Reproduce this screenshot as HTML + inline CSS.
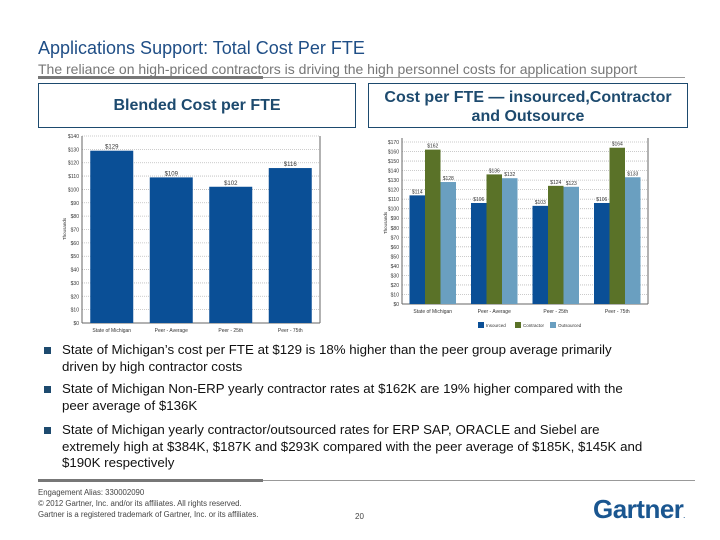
<!DOCTYPE html>
<html><head><meta charset="utf-8"><style>
body{margin:0;width:720px;height:540px;background:#fff;font-family:"Liberation Sans",Arial,sans-serif;position:relative;overflow:hidden}
.abs{position:absolute}
.box{position:absolute;border:1.5px solid #1d4a6e;color:#1d4a6e;font-weight:bold;font-size:16px;text-align:center;box-sizing:border-box}
.bul{position:absolute;left:62px;width:585px;font-size:13.3px;line-height:16.5px;color:#111}
.sq{position:absolute;left:44px;width:7px;height:7px;background:#1d4a6e}
</style></head><body>
<div class="abs" style="left:38px;top:38px;font-size:18px;color:#1f4e86">Applications Support: Total Cost Per FTE</div>
<div class="abs" style="left:38px;top:61px;font-size:14px;color:#777">The reliance on high-priced contractors is driving the high personnel costs for application support</div>
<div class="abs" style="left:38px;top:77px;width:647px;height:1px;background:#999"></div>
<div class="abs" style="left:38px;top:76px;width:225px;height:3px;background:#777"></div>
<div class="box" style="left:38px;top:83px;width:318px;height:45px;line-height:43px">Blended Cost per FTE</div>
<div class="box" style="left:368px;top:83px;width:320px;height:45px;padding-top:4px;line-height:19px">Cost per FTE — insourced,Contractor<br>and Outsource</div>

<svg class="abs" style="left:0;top:0" width="720" height="540">
<g id="left"></g><g id="right"></g>
</svg>

<div class="sq" style="top:347px"></div>
<div class="bul" style="top:342px">State of Michigan’s cost per FTE at $129 is 18% higher than the peer group average primarily driven by high contractor costs</div>
<div class="sq" style="top:386px"></div>
<div class="bul" style="top:381px">State of Michigan Non-ERP yearly contractor rates at $162K are 19% higher compared with the peer average of $136K</div>
<div class="sq" style="top:427px"></div>
<div class="bul" style="top:422px;width:615px">State of Michigan yearly contractor/outsourced rates for ERP SAP, ORACLE and Siebel are<br>extremely high at $384K, $187K and $293K compared with the peer average of $185K, $145K and $190K respectively</div>

<div class="abs" style="left:38px;top:480px;width:657px;height:1px;background:#999"></div>
<div class="abs" style="left:38px;top:479px;width:225px;height:3px;background:#777"></div>
<div class="abs" style="left:38px;top:487px;font-size:7.8px;line-height:11px;color:#444">Engagement Alias: 330002090<br>© 2012 Gartner, Inc. and/or its affiliates. All rights reserved.<br>Gartner is a registered trademark of Gartner, Inc. or its affiliates.</div>
<div class="abs" style="left:355px;top:512px;font-size:8px;color:#444">20</div>
<div class="abs" style="left:593px;top:494px;font-size:26px;font-weight:bold;color:#1a5690;letter-spacing:-0.5px">Gartner<span style="font-size:6px">.</span></div>

<script>
const leftCats=["State of Michigan","Peer - Average","Peer - 25th","Peer - 75th"];
const leftVals=[129,109,102,116];
const leftLabels=["$129","$109","$102","$116"];
const rightCats=["State of Michigan","Peer - Average","Peer - 25th","Peer - 75th"];
const insourced=[114,106,103,106];
const contractor=[162,136,124,164];
const outsourced=[128,132,123,133];
const seriesNames=["Insourced","Contractor","Outsourced"];
const NS="http://www.w3.org/2000/svg";
function mk(p,t,a){const e=document.createElementNS(NS,t);for(const k in a)e.setAttribute(k,a[k]);p.appendChild(e);return e;}
function txt(p,x,y,s,sz,anc){const t=mk(p,'text',{x:x,y:y,'font-size':sz,'text-anchor':anc||'middle',fill:'#333','font-family':'Liberation Sans, sans-serif'});t.textContent=s;return t;}
(function(){
 const g=document.getElementById('left');
 const x0=82,x1=320,yt=136,yb=323,max=140;
 const y=v=>yb-(v/max)*(yb-yt);
 const band=(x1-x0)/leftCats.length;
 for(let v=0;v<=max;v+=10){
  const l=mk(g,'line',{x1:x0,x2:x1,y1:y(v),y2:y(v),stroke:'#bbb','stroke-dasharray':'1,1','stroke-width':0.8});
  
  const t=txt(g,x0-3,y(v)+2,'$'+v,5,'end');
 }
 mk(g,'line',{x1:x0,x2:x0,y1:yt,y2:yb,stroke:'#666','stroke-width':1});
 mk(g,'line',{x1:x0,x2:x1,y1:yb,y2:yb,stroke:'#666','stroke-width':1});
 mk(g,'line',{x1:x1,x2:x1,y1:yt,y2:yb,stroke:'#666','stroke-width':1});
 const yt2=txt(g,0,0,'Thousands',4.5);yt2.setAttribute('transform','translate(66,229) rotate(-90)');
 
 leftVals.forEach((v,i)=>{
  const cx=x0+band*(i+0.5);
  const r=mk(g,'rect',{x:cx-21.5,y:y(v),width:43,height:yb-y(v),fill:'#0a4f96'});
  
  const l=txt(g,cx,y(v)-2,leftLabels[i],6);
  const c=txt(g,cx,332,leftCats[i],5);
 });
})();
(function(){
 const g=document.getElementById('right');
 const x0=402,x1=648,yt=142,yb=304,max=170;
 const y=v=>yb-(v/max)*(yb-yt);
 const band=(x1-x0)/rightCats.length;
 for(let v=0;v<=max;v+=10){
  const l=mk(g,'line',{x1:x0,x2:x1,y1:y(v),y2:y(v),stroke:'#bbb','stroke-dasharray':'1,1','stroke-width':0.8});
  
  const t=txt(g,x0-3,y(v)+2,'$'+v,5,'end');
 }
 mk(g,'line',{x1:x0,x2:x0,y1:yt-4,y2:yb,stroke:'#666','stroke-width':1});
 mk(g,'line',{x1:x0,x2:x1,y1:yb,y2:yb,stroke:'#666','stroke-width':1});
 mk(g,'line',{x1:x1,x2:x1,y1:yt-4,y2:yb,stroke:'#666','stroke-width':1});
 const yt2=txt(g,0,0,'Thousands',4.5);yt2.setAttribute('transform','translate(387,223) rotate(-90)');
 
 const series=[insourced,contractor,outsourced];
 const colors=['#0a4f96','#5a7228','#6a9fc0'];
 const bw=15.5;
 rightCats.forEach((c,i)=>{
  const cx=x0+band*(i+0.5);
  series.forEach((s,j)=>{
   const bx=cx-bw*1.5+bw*j;
   const r=mk(g,'rect',{x:bx,y:y(s[i]),width:bw,height:yb-y(s[i]),fill:colors[j]});
   
   const l=txt(g,bx+bw/2,y(s[i])-2,'$'+s[i],5);
  });
  const t=txt(g,cx,313,c,5);
 });
 const lx=[478,515,550];
 seriesNames.forEach((n,j)=>{
  const r=mk(g,'rect',{x:lx[j],y:322,width:6,height:6,fill:colors[j]});
  
  const t=txt(g,lx[j]+8,327,n,4.5,'start');
 });
})();
</script>
</body></html>
